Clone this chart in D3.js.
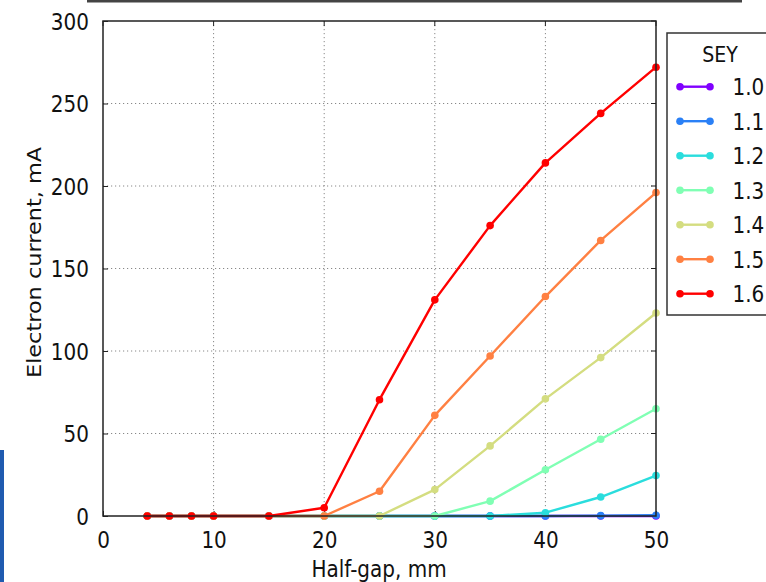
<!DOCTYPE html>
<html>
<head>
<meta charset="utf-8">
<script src="https://cdn.jsdelivr.net/npm/d3@7"></script>
<style>
  html, body { margin: 0; padding: 0; background: #fff; }
  svg { display: block; font-family: "DejaVu Sans", sans-serif; }
</style>
</head>
<body>
<svg id="chart" width="766" height="582"></svg>
<script>
// Half-gap positions (mm)
const halfGap = [4, 6, 8, 10, 15, 20, 25, 30, 35, 40, 45, 50];

// Secondary electron yield values and their electron current curves (mA)
const seyLabels = ["1.0", "1.1", "1.2", "1.3", "1.4", "1.5", "1.6"];
const sey10 = [0, 0, 0, 0, 0, 0, 0, 0, 0, 0, 0, 0];
const sey11 = [0, 0, 0, 0, 0, 0, 0, 0, 0, 0, 0.2, 0.5];
const sey12 = [0, 0, 0, 0, 0, 0, 0, 0, 0, 2, 11.5, 24.5];
const sey13 = [0, 0, 0, 0, 0, 0, 0, 0, 9, 28, 46.5, 65];
const sey14 = [0, 0, 0, 0, 0, 0, 0, 16, 42.5, 71, 96, 123];
const sey15 = [0, 0, 0, 0, 0, 0, 15, 61, 97, 133, 167, 196];
const sey16 = [0, 0, 0, 0, 0, 5, 70.5, 131, 176, 214, 244, 272];
const seriesValues = [sey10, sey11, sey12, sey13, sey14, sey15, sey16];
const seriesColors = ["#8000ff", "#2a80f6", "#2adddd", "#80ffb4", "#d4dd80", "#ff8042", "#ff0000"];

const xTicks = [0, 10, 20, 30, 40, 50];
const yTicks = [0, 50, 100, 150, 200, 250, 300];

const svg = d3.select("#chart");
const plot = { left: 103, right: 656, top: 21, bottom: 516 };
const FONT = 20;
const STRETCH = 1.12; // glyphs are drawn slightly taller than wide

const x = d3.scaleLinear().domain([0, 50]).range([plot.left, plot.right]);
const y = d3.scaleLinear().domain([0, 300]).range([plot.bottom, plot.top]);

// Bottom edge of the title box above the axes
svg.append("rect")
  .attr("x", 87).attr("y", 0).attr("width", 655).attr("height", 2.5)
  .attr("fill", "#444");

// Blue strip at the lower left
svg.append("rect")
  .attr("x", 0).attr("y", 450).attr("width", 4).attr("height", 132)
  .attr("fill", "#1f5bb0");

// Dotted grid
const grid = svg.append("g").attr("stroke", "#888").attr("stroke-width", 1)
  .attr("stroke-dasharray", "1.2,2.8");
grid.selectAll("line.gx").data(xTicks.slice(1, -1)).join("line")
  .attr("x1", d => x(d)).attr("x2", d => x(d))
  .attr("y1", plot.top).attr("y2", plot.bottom);
grid.selectAll("line.gy").data(yTicks.slice(1, -1)).join("line")
  .attr("y1", d => y(d)).attr("y2", d => y(d))
  .attr("x1", plot.left).attr("x2", plot.right);

// Axes with inward ticks
const xAxis = d3.axisBottom(x).tickValues(xTicks).tickSizeInner(-5).tickSizeOuter(0);
const yAxis = d3.axisLeft(y).tickValues(yTicks).tickSizeInner(-5).tickSizeOuter(0);

const gx = svg.append("g").attr("transform", `translate(0,${plot.bottom})`).call(xAxis);
const gy = svg.append("g").attr("transform", `translate(${plot.left},0)`).call(yAxis);
[gx, gy].forEach(g => {
  g.select(".domain").remove();
  g.selectAll(".tick line").attr("stroke", "#222");
  g.selectAll(".tick text").attr("font-size", FONT).attr("fill", "#111")
    .attr("font-family", "DejaVu Sans, sans-serif")
    .attr("dy", null).attr("x", null).attr("y", null);
});
gx.selectAll(".tick text")
  .attr("text-anchor", "middle")
  .attr("transform", `translate(0,32) scale(1,${STRETCH})`);
gy.selectAll(".tick text")
  .attr("text-anchor", "end")
  .attr("transform", `translate(-14,8.2) scale(1,${STRETCH})`);

// Right and top inward ticks
svg.append("g").selectAll("line").data(yTicks).join("line")
  .attr("x1", plot.right - 5).attr("x2", plot.right)
  .attr("y1", d => y(d)).attr("y2", d => y(d)).attr("stroke", "#222");
svg.append("g").selectAll("line").data(xTicks).join("line")
  .attr("y1", plot.top).attr("y2", plot.top + 5)
  .attr("x1", d => x(d)).attr("x2", d => x(d)).attr("stroke", "#222");

// Series lines and markers
const line = d3.line().x((d, i) => x(halfGap[i])).y(d => y(d));
seriesValues.forEach((vals, k) => {
  const g = svg.append("g");
  g.append("path").datum(vals)
    .attr("d", line)
    .attr("fill", "none")
    .attr("stroke", seriesColors[k])
    .attr("stroke-width", 2.4)
    .attr("stroke-linejoin", "round");
  g.selectAll("circle").data(vals).join("circle")
    .attr("cx", (d, i) => x(halfGap[i]))
    .attr("cy", d => y(d))
    .attr("r", 3.8)
    .attr("fill", seriesColors[k]);
});

// Plot frame
svg.append("rect")
  .attr("x", plot.left).attr("y", plot.top)
  .attr("width", plot.right - plot.left).attr("height", plot.bottom - plot.top)
  .attr("fill", "none").attr("stroke", "#222").attr("stroke-width", 1.5);

// Axis titles
svg.append("text")
  .attr("transform", `translate(379,577) scale(1,${STRETCH})`)
  .attr("text-anchor", "middle").attr("font-size", FONT).attr("fill", "#111")
  .text("Half-gap, mm");
svg.append("text")
  .attr("transform", `translate(41,262.5) scale(1,${STRETCH}) rotate(-90)`)
  .attr("text-anchor", "middle").attr("font-size", FONT).attr("fill", "#111")
  .text("Electron current, mA");

// Legend
const legend = svg.append("g");
legend.append("rect")
  .attr("x", 667).attr("y", 33).attr("width", 120).attr("height", 282)
  .attr("fill", "#fff").attr("stroke", "#333").attr("stroke-width", 1.5);
legend.append("text")
  .attr("transform", `translate(720,61.5) scale(1,${STRETCH})`)
  .attr("text-anchor", "middle")
  .attr("font-size", 19).attr("fill", "#111").text("SEY");
seyLabels.forEach((lab, k) => {
  const ly = 86.7 + k * 34.5;
  legend.append("line")
    .attr("x1", 680).attr("x2", 710).attr("y1", ly).attr("y2", ly)
    .attr("stroke", seriesColors[k]).attr("stroke-width", 2.4);
  legend.selectAll(null).data([680, 710]).join("circle")
    .attr("cx", d => d).attr("cy", ly).attr("r", 3.8).attr("fill", seriesColors[k]);
  legend.append("text")
    .attr("transform", `translate(732.5,${ly + 8.3}) scale(1,${STRETCH})`)
    .attr("font-size", FONT).attr("fill", "#111").text(lab);
});
</script>
</body>
</html>
